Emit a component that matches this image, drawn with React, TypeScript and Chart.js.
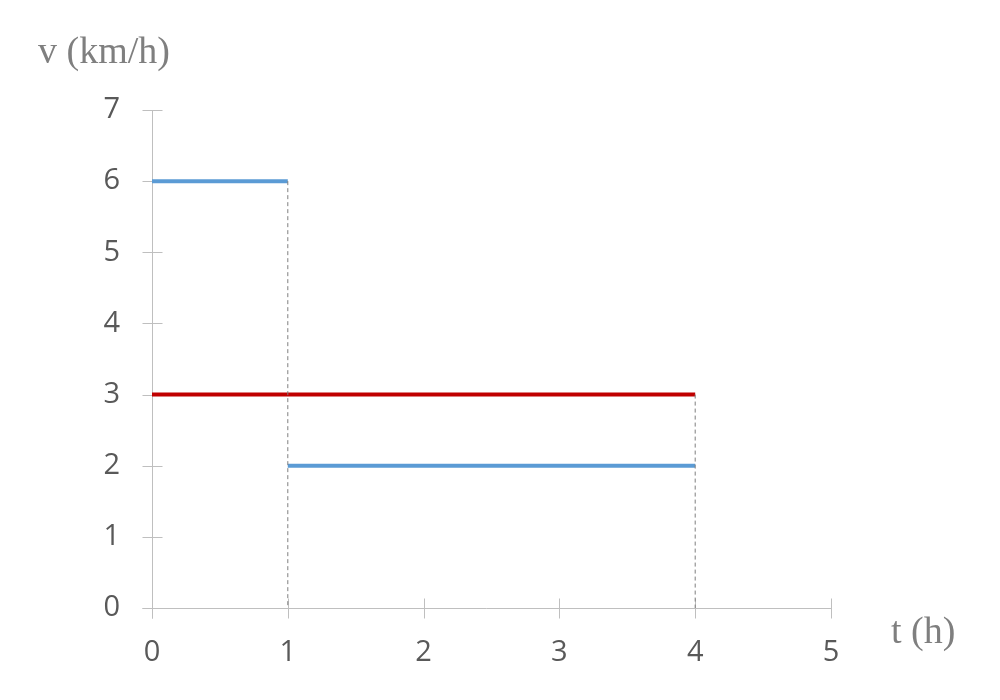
import React, { useEffect, useRef } from "react";
import { Chart, registerables } from "chart.js";

Chart.register(...registerables);

const xTicks = [0, 1, 2, 3, 4, 5];
const yTicks = [0, 1, 2, 3, 4, 5, 6, 7];
const blueFirst = [
  { x: 0, y: 6 },
  { x: 1, y: 6 },
];
const blueSecond = [
  { x: 1, y: 2 },
  { x: 4, y: 2 },
];
const redAverage = [
  { x: 0, y: 3 },
  { x: 4, y: 3 },
];
const dropAt1 = [
  { x: 1, y: 6 },
  { x: 1, y: 0 },
];
const dropAt4 = [
  { x: 4, y: 3 },
  { x: 4, y: 0 },
];
const yTitle = "v (km/h)";
const xTitle = "t (h)";

const AXIS = "#BFBFBF";

const axesPlugin = {
  id: "customAxes",
  beforeDatasetsDraw(chart: any) {
    const { ctx, chartArea, scales } = chart;
    const xs = scales.x;
    const ys = scales.y;
    ctx.save();
    ctx.strokeStyle = AXIS;
    ctx.lineWidth = 1;
    const L = Math.round(chartArea.left) + 0.5;
    const B = Math.round(chartArea.bottom) + 0.5;
    ctx.beginPath();
    ctx.moveTo(L, chartArea.top);
    ctx.lineTo(L, B + 10);
    ctx.stroke();
    ctx.beginPath();
    ctx.moveTo(L - 10, B);
    ctx.lineTo(chartArea.right, B);
    ctx.stroke();
    yTicks.forEach((v) => {
      const p = Math.round(ys.getPixelForValue(v)) + 0.5;
      ctx.beginPath();
      ctx.moveTo(L - 10, p);
      ctx.lineTo(L + 10, p);
      ctx.stroke();
    });
    xTicks.forEach((v) => {
      const p = Math.round(xs.getPixelForValue(v)) + 0.5;
      ctx.beginPath();
      ctx.moveTo(p, B - 10);
      ctx.lineTo(p, B + 10);
      ctx.stroke();
    });
    ctx.restore();
  },
  afterDraw(chart: any) {
    const { ctx, chartArea } = chart;
    ctx.save();
    ctx.fillStyle = "#7F7F7F";
    ctx.font = '38px "Liberation Serif"';
    ctx.textBaseline = "alphabetic";
    ctx.textAlign = "left";
    ctx.fillText(yTitle, chartArea.left - 114, chartArea.top - 47);
    ctx.fillText(xTitle, chartArea.right + 60, chartArea.bottom + 35);
    ctx.restore();
  },
};

export default function App() {
  const ref = useRef<HTMLCanvasElement | null>(null);
  useEffect(() => {
    if (!ref.current) return;
    const line = (data: any, color: string, width: number, dash: number[] = []) => ({
      data,
      borderColor: color,
      backgroundColor: color,
      borderWidth: width,
      borderDash: dash,
      showLine: true,
      pointRadius: 0,
      pointHoverRadius: 0,
      fill: false,
    });
    const chart = new Chart(ref.current, {
      type: "scatter",
      data: {
        datasets: [
          line(dropAt1, "#7F7F7F", 1, [4, 3]),
          line(dropAt4, "#7F7F7F", 1, [4, 3]),
          line(redAverage, "#C00000", 4),
          line(blueFirst, "#5B9BD5", 4),
          line(blueSecond, "#5B9BD5", 4),
        ],
      },
      options: {
        animation: false,
        responsive: false,
        maintainAspectRatio: false,
        layout: { padding: { top: 110, right: 169, left: 0, bottom: 0 } },
        plugins: {
          legend: { display: false },
          tooltip: { enabled: false },
        },
        scales: {
          x: {
            type: "linear",
            min: 0,
            max: 5,
            afterFit: (s: any) => {
              s.height = 92;
            },
            afterBuildTicks: (s: any) => {
              s.ticks = xTicks.map((v) => ({ value: v }));
            },
            grid: { display: false, drawTicks: false },
            border: { display: false },
            ticks: {
              color: "#595959",
              font: { family: '"Open Sans"', size: 29 },
              padding: 27,
              maxRotation: 0,
            },
          },
          y: {
            type: "linear",
            min: 0,
            max: 7,
            afterFit: (s: any) => {
              s.width = 152;
            },
            afterBuildTicks: (s: any) => {
              s.ticks = yTicks.map((v) => ({ value: v }));
            },
            grid: { display: false, drawTicks: false },
            border: { display: false },
            ticks: {
              color: "#595959",
              font: { family: '"Open Sans"', size: 29 },
              padding: 32,
            },
          },
        },
      },
      plugins: [axesPlugin],
    });
    return () => chart.destroy();
  }, []);
  return (
    <div style={{ position: "fixed", left: 0, top: 0, width: 1000, height: 700, background: "#fff" }}>
      <canvas ref={ref} width={1000} height={700} />
    </div>
  );
}
